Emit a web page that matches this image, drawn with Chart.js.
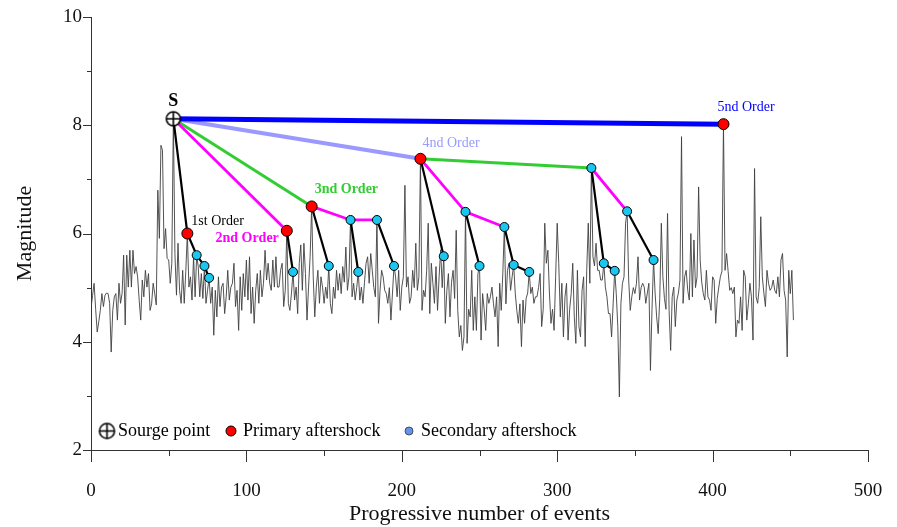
<!DOCTYPE html>
<html>
<head>
<meta charset="utf-8">
<script src="https://cdn.jsdelivr.net/npm/chart.js@4.4.1/dist/chart.umd.min.js"></script>
<style>
  html, body { margin: 0; padding: 0; background: #ffffff; }
  canvas { display: block; }
</style>
</head>
<body>
<canvas id="chart" width="897" height="527"></canvas>
<script>
// Magnitude of each event, in catalogue order (x = progressive event number)
const magnitudes = [
  4.62,4.85,5.08,4.60,4.18,4.37,4.58,4.89,4.65,4.86,
  4.90,4.89,4.71,3.81,4.58,4.83,4.89,4.40,5.08,4.71,
  4.89,5.60,4.31,5.60,5.01,5.69,5.01,5.69,5.26,5.39,
  5.20,4.77,4.40,5.14,4.83,5.32,5.01,5.26,4.58,4.70,
  5.08,4.89,4.68,6.80,5.91,7.63,7.54,5.72,6.09,5.54,
  5.51,5.08,5.45,8.12,5.63,4.86,5.82,4.95,4.71,5.32,
  4.71,5.30,6.00,5.01,5.20,4.77,5.57,4.83,5.60,5.39,
  4.83,5.26,4.80,5.40,4.71,4.95,5.18,4.71,5.01,4.12,
  4.95,4.46,5.20,4.65,5.01,5.08,4.52,4.83,5.32,4.77,
  5.01,5.08,5.45,4.65,4.95,4.21,5.20,4.58,5.26,4.83,
  5.51,4.77,5.57,4.52,5.01,4.34,4.95,5.26,4.71,5.32,
  4.83,5.08,5.69,5.14,5.45,5.08,4.95,5.51,5.01,5.57,
  5.01,5.01,5.32,5.45,4.65,4.95,6.05,4.71,4.58,4.90,
  5.29,4.77,5.01,4.52,5.45,5.79,4.95,5.82,5.26,4.40,
  5.01,5.57,6.50,5.20,4.46,5.01,5.32,4.71,5.20,5.01,
  4.71,5.01,4.80,5.40,4.71,4.52,5.01,4.80,5.32,4.95,
  5.26,4.89,5.39,5.10,5.75,4.95,5.20,6.25,4.83,5.08,
  4.77,5.00,5.29,4.77,5.01,4.71,5.10,5.45,5.57,5.08,
  5.63,5.32,5.00,4.83,6.25,4.34,4.95,5.32,5.20,4.95,
  4.89,4.71,5.00,4.40,4.90,5.40,5.20,4.83,5.32,4.58,
  5.01,5.20,6.89,5.01,5.20,4.71,4.83,5.32,5.00,5.82,
  4.95,5.20,7.38,4.58,4.95,4.83,5.32,6.19,4.52,5.45,
  5.08,4.71,5.39,4.58,5.20,5.70,5.00,5.58,4.34,4.95,
  5.26,4.46,5.10,5.32,4.80,6.06,4.58,4.09,4.30,3.84,
  4.09,6.40,3.97,4.60,4.46,5.32,4.21,4.83,4.21,5.26,
  5.40,4.03,4.89,4.60,4.21,4.89,4.71,4.83,5.01,4.70,
  4.46,4.83,3.91,5.08,4.58,5.26,6.12,4.70,5.32,5.45,
  4.95,5.20,5.42,4.90,4.58,4.34,4.70,3.91,4.77,4.34,
  4.80,4.90,5.29,4.89,5.01,4.71,4.83,4.83,5.00,5.26,
  4.28,4.60,6.19,5.45,5.69,4.90,4.34,4.60,4.21,5.20,
  6.19,5.45,4.46,5.08,4.09,4.83,5.08,4.03,4.60,4.89,
  5.45,4.46,3.97,5.32,4.28,4.09,4.95,5.20,3.91,5.32,
  6.19,5.08,7.21,5.57,5.40,5.82,5.32,5.32,5.14,5.14,
  5.45,5.01,4.83,4.52,4.52,4.09,4.70,5.31,4.89,4.28,
  2.98,4.71,5.08,5.20,6.19,6.41,5.14,4.58,4.83,5.00,
  4.89,5.08,5.57,4.77,5.00,5.08,5.01,4.71,4.90,5.08,
  3.47,4.60,5.51,4.90,4.46,4.15,4.80,6.19,5.20,4.80,
  4.60,6.37,4.58,3.84,4.83,5.01,4.28,4.77,4.90,5.14,
  7.79,4.71,5.20,5.32,4.95,4.77,6.00,4.83,5.88,5.00,
  5.20,6.86,5.51,5.10,4.89,4.77,5.32,4.83,4.77,4.58,
  5.20,5.14,4.34,4.80,5.01,5.20,5.30,8.02,5.32,5.63,
  5.30,4.95,5.00,4.89,5.01,4.09,4.40,4.34,4.83,4.21,
  5.32,5.20,4.40,4.70,5.08,4.83,4.03,7.20,4.83,4.71,
  5.00,6.31,5.20,4.90,4.65,5.32,5.08,4.95,5.00,5.14,
  4.95,4.89,5.20,4.83,5.51,5.63,4.95,4.77,3.72,5.32,
  4.89,5.32,4.40
];

// Events of the cascade (indices into magnitudes)
const sourceEvent = 53;
const primaryEvents = [62, 126, 142, 212, 407];
const secondaryEvents = [68, 73, 76, 130, 153, 167, 172, 184, 195, 227, 241, 250, 266, 272, 282, 322, 330, 337, 345, 362];

// Triggering links, grouped by order; each chain is a sequence of event indices
const chainsOrder1 = [[53, 62, 68, 73, 76], [126, 130], [142, 153], [167, 172], [184, 195], [212, 227], [241, 250], [266, 272, 282], [322, 330, 337], [345, 362]];
const chainsOrder2 = [[53, 126], [142, 167, 184], [212, 241, 266], [322, 345]];
const chainsOrder3 = [[53, 142], [212, 322]];
const chainsOrder4 = [[53, 212]];
const chainsOrder5 = [[53, 407]];

// Order captions, attached to the primary aftershock they describe
const orderCaptions = ['1st Order', '2nd Order', '3nd Order', '4nd Order', '5nd Order'];
const captionEvents = [62, 126, 142, 212, 407];

// Axis ticks
const xTickValues = [0, 50, 100, 150, 200, 250, 300, 350, 400, 450, 500];
const xTickLabels = [0, 100, 200, 300, 400, 500];
const yTickValues = [2, 3, 4, 5, 6, 7, 8, 9, 10];
const yTickLabels = [2, 4, 6, 8, 10];

const legendLabels = ['Sourge point', 'Primary aftershock', 'Secondary aftershock'];

// ---------------------------------------------------------------------------
const SERIF = '"Liberation Serif", "Times New Roman", serif';

const pt = i => ({ x: i, y: magnitudes[i] });

// Source symbol: open circle with a cross
function makeSourceIcon(r) {
  const s = Math.ceil(r * 2 + 4);
  const c = document.createElement('canvas');
  c.width = s; c.height = s;
  const g = c.getContext('2d');
  const m = s / 2;
  g.fillStyle = '#ffffff';
  g.strokeStyle = '#000000';
  g.lineWidth = 1.6;
  g.beginPath(); g.arc(m, m, r, 0, Math.PI * 2); g.fill(); g.stroke();
  g.beginPath();
  g.moveTo(m - r, m); g.lineTo(m + r, m);
  g.moveTo(m, m - r); g.lineTo(m, m + r);
  g.stroke();
  return c;
}
const sourceIcon = makeSourceIcon(7);
const legendSourceIcon = makeSourceIcon(7.5);

const lineStyles = [
  { chains: chainsOrder1, color: '#000000', width: 2.2, order: 20 },
  { chains: chainsOrder2, color: '#ff00ff', width: 2.8, order: 30 },
  { chains: chainsOrder3, color: '#33cc33', width: 3, order: 40 },
  { chains: chainsOrder4, color: '#9999ff', width: 4, order: 50 },
  { chains: chainsOrder5, color: '#0000ff', width: 5, order: 15 }
];

const datasets = [];

datasets.push({
  label: 'Magnitude',
  data: magnitudes.map((m, i) => ({ x: i, y: m })),
  showLine: true,
  borderColor: '#404040',
  borderWidth: 0.9,
  pointRadius: 0,
  tension: 0,
  order: 100
});

lineStyles.forEach(st => {
  st.chains.forEach(ch => {
    datasets.push({
      data: ch.map(pt),
      showLine: true,
      borderColor: st.color,
      borderWidth: st.width,
      pointRadius: 0,
      tension: 0,
      order: st.order
    });
  });
});

datasets.push({
  label: 'Secondary aftershock',
  data: secondaryEvents.map(pt),
  showLine: false,
  pointRadius: 4.5,
  pointBackgroundColor: '#1cc6ef',
  pointBorderColor: '#000000',
  pointBorderWidth: 1,
  order: 5
});
datasets.push({
  label: 'Primary aftershock',
  data: primaryEvents.map(pt),
  showLine: false,
  pointRadius: 5.5,
  pointBackgroundColor: '#ff0000',
  pointBorderColor: '#000000',
  pointBorderWidth: 1,
  order: 4
});
datasets.push({
  label: 'Sourge point',
  data: [pt(sourceEvent)],
  showLine: false,
  pointStyle: sourceIcon,
  order: 3
});

// Outward tick marks of different lengths for major and minor steps
const tickMarks = {
  id: 'tickMarks',
  afterDraw(chart) {
    const { ctx, chartArea: a, scales: { x, y } } = chart;
    ctx.save();
    ctx.strokeStyle = '#333333';
    ctx.lineWidth = 1;
    xTickValues.forEach(v => {
      const px = Math.round(x.getPixelForValue(v)) + 0.5;
      const len = xTickLabels.includes(v) ? 12 : 6;
      ctx.beginPath(); ctx.moveTo(px, a.bottom); ctx.lineTo(px, a.bottom + len); ctx.stroke();
    });
    yTickValues.forEach(v => {
      const py = Math.round(y.getPixelForValue(v)) + 0.5;
      const len = yTickLabels.includes(v) ? 8 : 4;
      ctx.beginPath(); ctx.moveTo(a.left, py); ctx.lineTo(a.left - len, py); ctx.stroke();
    });
    ctx.restore();
  }
};

// Order captions and the "S" tag
const captionStyle = [
  { color: '#000000', weight: 'normal', size: 14, dx: 4, dy: -12, align: 'left' },
  { color: '#ff00ff', weight: 'bold', size: 14, dx: -8, dy: 8, align: 'right' },
  { color: '#33cc33', weight: 'bold', size: 14, dx: 3, dy: -17, align: 'left' },
  { color: '#9999ff', weight: 'normal', size: 14, dx: 2, dy: -15, align: 'left' },
  { color: '#0000ff', weight: 'normal', size: 14, dx: -6, dy: -17, align: 'left' }
];

const captions = {
  id: 'captions',
  afterDatasetsDraw(chart) {
    const { ctx, scales: { x, y } } = chart;
    ctx.save();
    ctx.textBaseline = 'middle';
    orderCaptions.forEach((t, k) => {
      const st = captionStyle[k];
      const e = captionEvents[k];
      const px = x.getPixelForValue(e) + st.dx;
      const py = y.getPixelForValue(magnitudes[e]) + st.dy;
      ctx.font = st.weight + ' ' + st.size + 'px ' + SERIF;
      ctx.fillStyle = st.color;
      ctx.textAlign = st.align;
      ctx.fillText(t, px, py);
    });
    ctx.font = 'bold 18px ' + SERIF;
    ctx.fillStyle = '#000000';
    ctx.textAlign = 'center';
    ctx.fillText('S', x.getPixelForValue(sourceEvent), y.getPixelForValue(magnitudes[sourceEvent]) - 17);
    ctx.restore();
  }
};

// Legend row inside the plot, lower-left
const legendRow = {
  id: 'legendRow',
  afterDraw(chart) {
    const { ctx, chartArea: a } = chart;
    const cy = a.bottom - 19;
    const x0 = a.left;
    ctx.save();
    ctx.font = '18px ' + SERIF;
    ctx.textBaseline = 'middle';
    ctx.textAlign = 'left';
    ctx.fillStyle = '#000000';
    // source symbol
    ctx.drawImage(legendSourceIcon, x0 + 16 - legendSourceIcon.width / 2, cy - legendSourceIcon.height / 2);
    ctx.fillText(legendLabels[0], x0 + 27, cy);
    // primary
    ctx.beginPath(); ctx.arc(x0 + 140, cy, 5, 0, Math.PI * 2);
    ctx.fillStyle = '#ff0000'; ctx.fill();
    ctx.strokeStyle = '#000000'; ctx.lineWidth = 1; ctx.stroke();
    ctx.fillStyle = '#000000';
    ctx.fillText(legendLabels[1], x0 + 152, cy);
    // secondary
    ctx.beginPath(); ctx.arc(x0 + 318, cy, 4, 0, Math.PI * 2);
    ctx.fillStyle = '#6495ed'; ctx.fill();
    ctx.strokeStyle = '#333333'; ctx.lineWidth = 0.8; ctx.stroke();
    ctx.fillStyle = '#000000';
    ctx.fillText(legendLabels[2], x0 + 330, cy);
    ctx.restore();
  }
};

// Invisible library tick marks only reserve room between axis and labels
const spacerGrid = len => ({
  display: true,
  drawOnChartArea: false,
  drawTicks: true,
  tickLength: len,
  color: 'rgba(0,0,0,0)'
});

new Chart(document.getElementById('chart'), {
  type: 'scatter',
  data: { datasets },
  options: {
    responsive: false,
    animation: false,
    devicePixelRatio: 1,
    events: [],
    layout: { padding: { left: 0, right: 29, top: 17, bottom: 0 } },
    plugins: {
      legend: { display: false },
      tooltip: { enabled: false }
    },
    scales: {
      x: {
        type: 'linear',
        min: 0, max: 500,
        afterFit: s => { s.height = 77; },
        afterBuildTicks: s => { s.ticks = xTickValues.map(v => ({ value: v })); },
        grid: spacerGrid(27),
        border: { display: true, color: '#333333', width: 1 },
        ticks: {
          color: '#111111',
          font: { family: SERIF, size: 19 },
          padding: 3,
          maxRotation: 0,
          autoSkip: false,
          callback: v => xTickLabels.includes(v) ? String(v) : ''
        },
        title: {
          display: true,
          text: 'Progressive number of events',
          color: '#111111',
          font: { family: SERIF, size: 22, lineHeight: 1 },
          padding: { top: 0, bottom: 2 }
        }
      },
      y: {
        type: 'linear',
        min: 2, max: 10,
        afterFit: s => { s.width = 91; },
        afterBuildTicks: s => { s.ticks = yTickValues.map(v => ({ value: v })); },
        grid: spacerGrid(6),
        border: { display: true, color: '#333333', width: 1 },
        ticks: {
          color: '#111111',
          font: { family: SERIF, size: 19 },
          padding: 3,
          autoSkip: false,
          callback: v => yTickLabels.includes(v) ? String(v) : ''
        },
        title: {
          display: true,
          text: 'Magnitude',
          color: '#111111',
          font: { family: SERIF, size: 22, lineHeight: 1 },
          padding: { top: 14, bottom: 0 }
        }
      }
    }
  },
  plugins: [tickMarks, captions, legendRow]
});
</script>
</body>
</html>
